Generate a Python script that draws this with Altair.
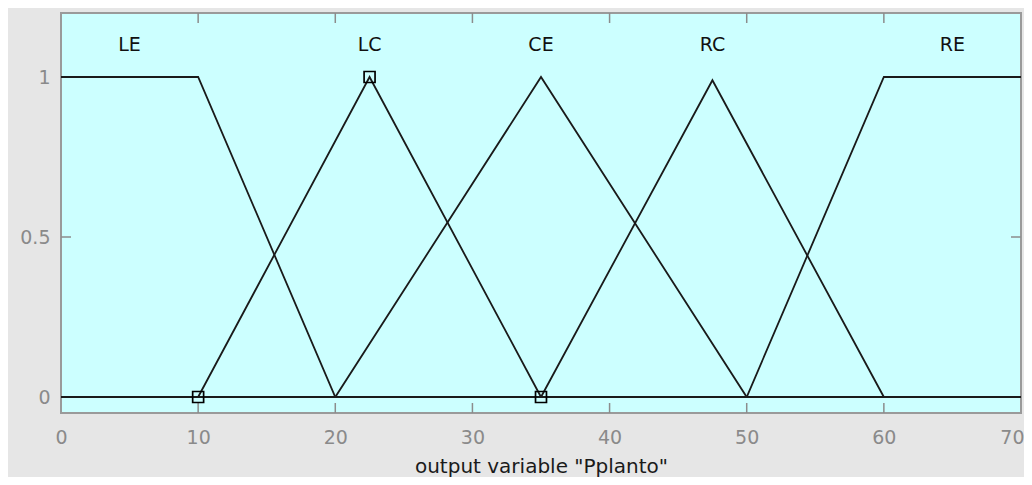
import altair as alt
import pandas as pd

# Membership functions (x, membership)
mf_names = ["LE", "LC", "CE", "RC", "RE"]
le_x = [0, 10, 20, 70]
le_y = [1, 1, 0, 0]
lc_x = [0, 10, 22.5, 35, 70]
lc_y = [0, 0, 1, 0, 0]
ce_x = [0, 20, 35, 50, 70]
ce_y = [0, 0, 1, 0, 0]
rc_x = [0, 35, 47.5, 60, 70]
rc_y = [0, 0, 0.99, 0, 0]
re_x = [0, 50, 60, 70]
re_y = [0, 0, 1, 1]

label_x = [5, 22.5, 35, 47.5, 65]
label_y = [1.1, 1.1, 1.1, 1.1, 1.1]

marker_x = [10, 22.5, 35]
marker_y = [0, 1, 0]

x_ticks = [0, 10, 20, 30, 40, 50, 60, 70]
x_inner_ticks = [10, 20, 30, 40, 50, 60]
y_ticks = [0, 0.5, 1]

rows = []
for name, xs, ys in zip(mf_names, [le_x, lc_x, ce_x, rc_x, re_x], [le_y, lc_y, ce_y, rc_y, re_y]):
    for i, (a, b) in enumerate(zip(xs, ys)):
        rows.append({"mf": name, "order": i, "x": a, "y": b})
lines_df = pd.DataFrame(rows)
labels_df = pd.DataFrame({"x": label_x, "y": label_y, "t": mf_names})
markers_df = pd.DataFrame({"x": marker_x, "y": marker_y})
xt_df = pd.DataFrame({"x": x_inner_ticks})
yt_df = pd.DataFrame({"y": y_ticks})

W, H = 960, 400
FONT = "DejaVu Sans"

xscale = alt.Scale(domain=[0, 70], nice=False, zero=False)
yscale = alt.Scale(domain=[-0.05, 1.2], nice=False, zero=False)

xaxis = alt.Axis(values=x_ticks, title='output variable "Pplanto"', grid=False,
                 domain=False, ticks=False, tickSize=0, labelPadding=15, labelFlush=False,
                 labelAlign={"condition": {"test": "datum.value == 70", "value": "right"}, "value": "center"},
                 labelOffset={"condition": {"test": "datum.value == 70", "value": 3}, "value": 0},
                 labelFont=FONT, labelFontSize=19, labelColor="#8a8a8a",
                 titleFont=FONT, titleFontSize=20, titleFontWeight="normal",
                 titleColor="#1a1a1a", titlePadding=9)
yaxis = alt.Axis(values=y_ticks, title=None, grid=False, domain=False,
                 ticks=False, tickSize=0, labelPadding=11, labelFlush=False,
                 labelFont=FONT, labelFontSize=19, labelColor="#8a8a8a",
                 labelExpr="datum.value == 0.5 ? '0.5' : format(datum.value, 'd')")

base_x = alt.X("x:Q", scale=xscale, axis=xaxis)
base_y = alt.Y("y:Q", scale=yscale, axis=yaxis)

lines = alt.Chart(lines_df).mark_line(color="#1a1a1a", strokeWidth=1.8).encode(
    x=base_x, y=base_y, detail="mf:N", order="order:Q")

markers = alt.Chart(markers_df).mark_point(shape="square", filled=False, color="#000000",
                                            size=120, strokeWidth=1.7, opacity=1).encode(
    x=alt.X("x:Q", scale=xscale), y=alt.Y("y:Q", scale=yscale))

labels = alt.Chart(labels_df).mark_text(font=FONT, fontSize=19, color="#111111",
                                        baseline="middle", align="center").encode(
    x=alt.X("x:Q", scale=xscale), y=alt.Y("y:Q", scale=yscale), text="t:N")

tick_color = "#8c8c8c"
bottom_ticks = alt.Chart(xt_df).mark_rule(color=tick_color, strokeWidth=1.5).encode(
    x=alt.X("x:Q", scale=xscale), y=alt.value(H), y2=alt.value(H - 10))
top_ticks = alt.Chart(xt_df).mark_rule(color=tick_color, strokeWidth=1.5).encode(
    x=alt.X("x:Q", scale=xscale), y=alt.value(0), y2=alt.value(10))
left_ticks = alt.Chart(yt_df).mark_rule(color=tick_color, strokeWidth=1.5).encode(
    y=alt.Y("y:Q", scale=yscale), x=alt.value(0), x2=alt.value(10))
right_ticks = alt.Chart(yt_df).mark_rule(color=tick_color, strokeWidth=1.5).encode(
    y=alt.Y("y:Q", scale=yscale), x=alt.value(W), x2=alt.value(W - 10))

chart = alt.layer(bottom_ticks, top_ticks, left_ticks, right_ticks, lines, markers, labels).properties(
    width=W, height=H,
    autosize=alt.AutoSizeParams(type="none"),
    padding={"left": 53, "top": 5, "right": 3, "bottom": 64},
    background="#e6e6e6",
).configure_view(
    fill="#ccffff", stroke="#9a9a9a", strokeWidth=2
)

chart.save("out.html", embed_options={"renderer": "svg", "actions": False})
